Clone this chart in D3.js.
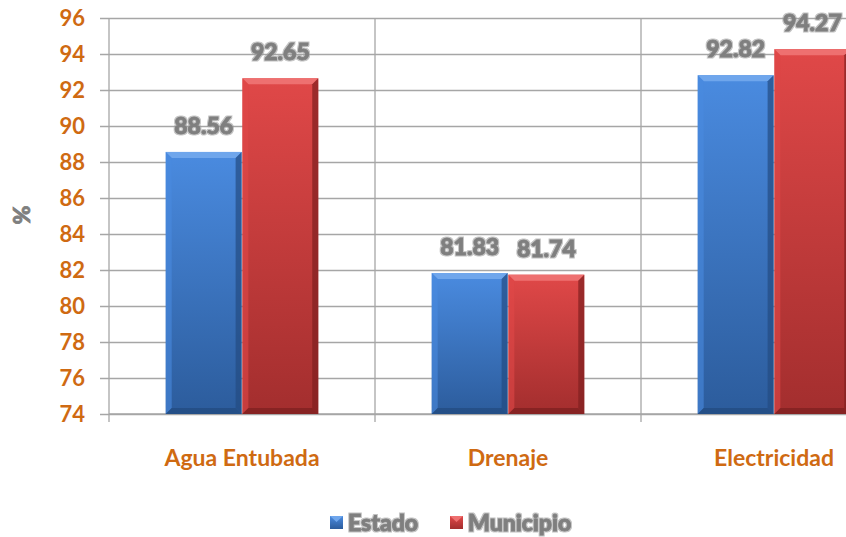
<!DOCTYPE html>
<html>
<head>
<meta charset="utf-8">
<script src="https://cdn.jsdelivr.net/npm/d3@7"></script>
<style>
  body { margin: 0; background: #fff; }
  svg { display: block; }
</style>
</head>
<body>
<div class="chart"></div>
<script>
const categories = ['Agua Entubada', 'Drenaje', 'Electricidad'];
const seriesNames = ['Estado', 'Municipio'];
const estado = [88.56, 81.83, 92.82];
const municipio = [92.65, 81.74, 94.27];
const yTicks = [74, 76, 78, 80, 82, 84, 86, 88, 90, 92, 94, 96];

const width = 846, height = 537;
const plot = { left: 109, right: 907, top: 18, bottom: 414 };
const font = 'Lato, "Open Sans", sans-serif';
const orange = '#CF6A12';
const gray = '#7f7f7f';

const svg = d3.select('div.chart').append('svg').attr('width', width).attr('height', height);
const defs = svg.append('defs');

const colors = [
    { top: '#4A8BE0', bottom: '#2C5C9C', bevel: '#6FA6EC', edge: '#234C82' },
    { top: '#E04848', bottom: '#A32E2E', bevel: '#EE7070', edge: '#7F2020' }
];
colors.forEach((c, i) => {
    const g = defs.append('linearGradient').attr('id', `grad${i}`).attr('x1', 0).attr('y1', 0).attr('x2', 0).attr('y2', 1);
    g.append('stop').attr('offset', '0%').attr('stop-color', c.top);
    g.append('stop').attr('offset', '100%').attr('stop-color', c.bottom);
});
const glow = defs.append('filter').attr('id', 'glow').attr('x', '-20%').attr('y', '-30%').attr('width', '140%').attr('height', '160%');
glow.append('feMorphology').attr('in', 'SourceAlpha').attr('operator', 'dilate').attr('radius', 1).attr('result', 'd');
glow.append('feFlood').attr('flood-color', '#9a9a9a').attr('flood-opacity', 0.6);
glow.append('feComposite').attr('in2', 'd').attr('operator', 'in').attr('result', 'o');
const merge = glow.append('feMerge');
merge.append('feMergeNode').attr('in', 'o');
merge.append('feMergeNode').attr('in', 'SourceGraphic');

const x0 = d3.scaleBand().domain(categories).range([plot.left, plot.right]).paddingInner(0).paddingOuter(0);
const x1 = d3.scaleBand().domain(seriesNames).range([0, x0.bandwidth()]).paddingInner(0.01).paddingOuter(0.74);
const y = d3.scaleLinear().domain([74, 96]).range([plot.bottom, plot.top]);

// horizontal gridlines with outside tick
const yAxis = d3.axisLeft(y).tickValues(yTicks).tickSizeInner(-(plot.right - plot.left)).tickSizeOuter(0).tickPadding(14);
const yg = svg.append('g').attr('transform', `translate(${plot.left},0)`).call(yAxis);
yg.select('.domain').remove();
yg.selectAll('.tick line').attr('stroke', '#a6a6a6').attr('stroke-width', 1.3).attr('x1', -9);
yg.selectAll('.tick text').attr('fill', orange).attr('font-family', font).attr('font-weight', 'bold').attr('font-size', 22).attr('x', -24);

// vertical separators
const seps = [plot.left, ...categories.map(c => x0(c) + x0.bandwidth())];
svg.append('g').selectAll('line').data(seps).join('line')
    .attr('x1', d => d).attr('x2', d => d)
    .attr('y1', plot.top).attr('y2', plot.bottom + 8)
    .attr('stroke', '#a6a6a6').attr('stroke-width', 1.3);
svg.append('line').attr('x1', plot.left).attr('x2', plot.right).attr('y1', plot.bottom).attr('y2', plot.bottom)
    .attr('stroke', '#a6a6a6').attr('stroke-width', 1.3);

// bars
const rows = categories.map((c, i) => ({ cat: c, vals: [estado[i], municipio[i]] }));
const groups = svg.append('g').selectAll('g').data(rows).join('g').attr('transform', d => `translate(${x0(d.cat)},0)`);
const bars = groups.selectAll('g.bar').data(d => d.vals.map((v, k) => ({ v, k, s: seriesNames[k] }))).join('g').attr('class', 'bar');
bars.each(function (d) {
    const g = d3.select(this);
    const bx = x1(d.s), bw = x1.bandwidth(), by = y(d.v), bh = y(74) - y(d.v);
    const c = colors[d.k];
    const b = 6;
    g.append('rect').attr('x', bx).attr('y', by).attr('width', bw).attr('height', bh).attr('fill', `url(#grad${d.k})`);
    // bevel top
    g.append('path').attr('d', `M${bx},${by}L${bx + bw},${by}L${bx + bw - b},${by + b}L${bx + b},${by + b}Z`).attr('fill', c.bevel);
    // bevel left
    g.append('path').attr('d', `M${bx},${by}L${bx + b},${by + b}L${bx + b},${by + bh - b}L${bx},${by + bh}Z`).attr('fill', c.top).attr('opacity', 0.6);
    // bevel right
    g.append('path').attr('d', `M${bx + bw},${by}L${bx + bw - b},${by + b}L${bx + bw - b},${by + bh - b}L${bx + bw},${by + bh}Z`).attr('fill', c.edge).attr('opacity', 0.7);
    // bevel bottom
    g.append('path').attr('d', `M${bx},${by + bh}L${bx + b},${by + bh - b}L${bx + bw - b},${by + bh - b}L${bx + bw},${by + bh}Z`).attr('fill', c.edge).attr('opacity', 0.8);
    g.append('text').attr('x', bx + bw / 2).attr('y', by - 26).attr('dy', '0.35em')
        .attr('text-anchor', 'middle').attr('fill', gray).attr('stroke', gray).attr('stroke-width', 0.8)
        .attr('font-family', font).attr('font-weight', 900).attr('font-size', 23)
        .attr('filter', 'url(#glow)').text(d.v.toFixed(2));
});

// category labels
svg.append('g').selectAll('text').data(categories).join('text')
    .attr('x', d => x0(d) + x0.bandwidth() / 2).attr('y', 458).attr('dy', '0.35em')
    .attr('text-anchor', 'middle').attr('fill', orange).attr('font-family', font).attr('font-weight', 'bold').attr('font-size', 23)
    .text(d => d);

// y title
svg.append('text').attr('transform', 'translate(22,215) rotate(-90)').attr('text-anchor', 'middle').attr('dy', '0.35em')
    .attr('fill', gray).attr('stroke', gray).attr('stroke-width', 0.8).attr('font-family', font).attr('font-weight', 900).attr('font-size', 23).text('%');

// legend
const legendX = [330, 450];
const lg = svg.append('g').selectAll('g').data(seriesNames).join('g').attr('transform', (d, i) => `translate(${legendX[i]},516)`);
lg.append('rect').attr('width', 13).attr('height', 13).attr('fill', (d, i) => `url(#grad${i})`);
lg.append('path').attr('d', 'M0,0L13,0L6.5,6Z').attr('fill', (d, i) => colors[i].bevel);
lg.append('text').attr('x', 18).attr('y', 7).attr('dy', '0.35em').attr('fill', gray).attr('stroke', gray).attr('stroke-width', 0.8)
    .attr('font-family', font).attr('font-weight', 900).attr('font-size', 23).attr('filter', 'url(#glow)').text(d => d);
</script>
</body>
</html>
